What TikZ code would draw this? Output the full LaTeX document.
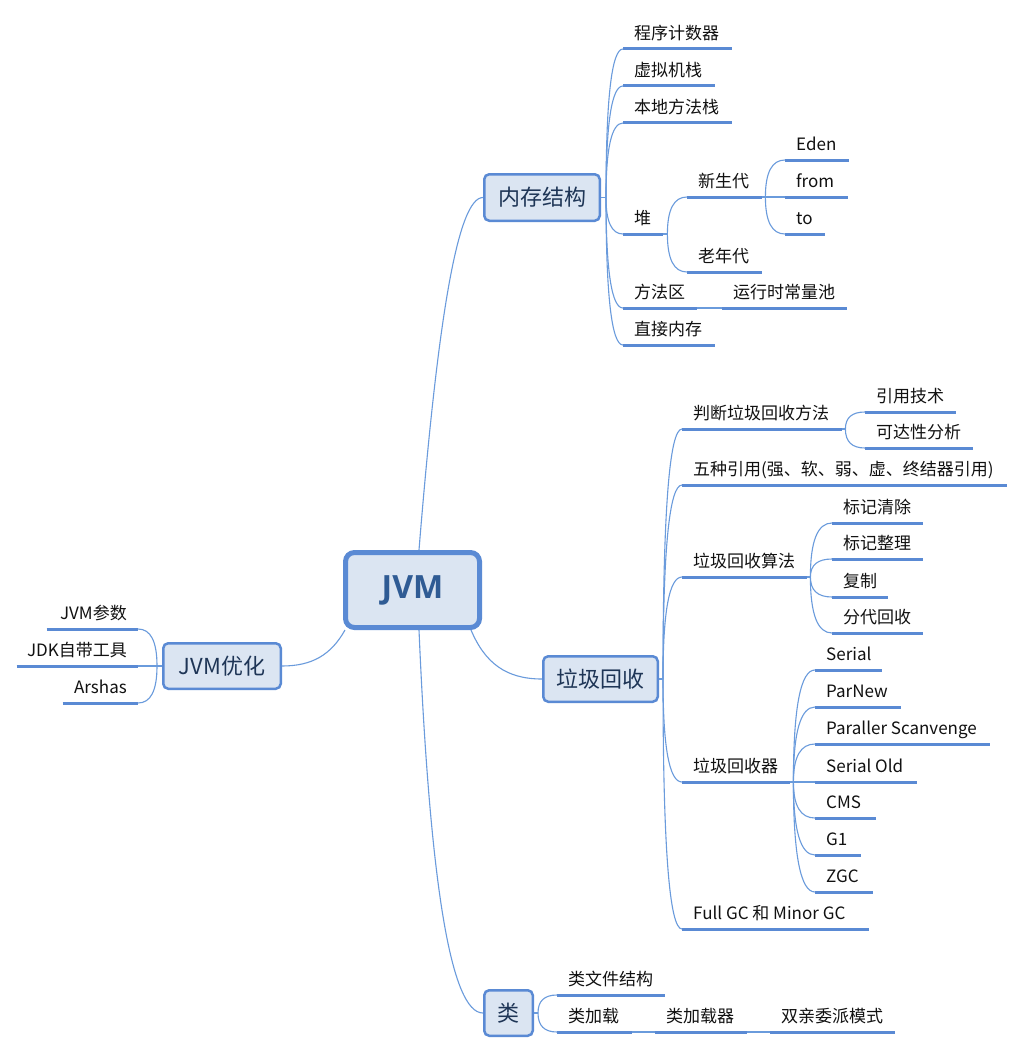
\documentclass[tikz,border=0pt]{standalone}
\usepackage{fontspec}
\setmainfont{Noto Sans CJK SC}
\newfontfamily\jvmfont{Open Sans}
\usetikzlibrary{calc}
\definecolor{ulc}{HTML}{5A8AD4}
\definecolor{cnc}{HTML}{6A9BDC}
\definecolor{boxf}{HTML}{DBE5F2}
\definecolor{boxd}{HTML}{5A8AD4}
\definecolor{topc}{HTML}{1E3556}
\definecolor{jvmc}{HTML}{2F5B94}
\definecolor{leafc}{HTML}{111111}
\newcommand\lbx[2]{\makebox[\dimexpr #1pt-22pt\relax][l]{#2}}
\newcommand\rbx[2]{\makebox[\dimexpr #1pt-22pt\relax][r]{#2}}
\newcommand\lnk[2]{\draw[conn] (#1) .. controls ($(#1)!0.667!(#1|-#2)$) and ($(#2)!0.667!(#1|-#2)$) .. (#2);}
\begin{document}
\begin{tikzpicture}[x=1pt,y=-1pt,
  leaf/.style={anchor=south west, inner xsep=11pt, inner ysep=5.5pt, text height=13pt, text depth=4pt, font=\fontsize{17}{20}\selectfont, text=leafc},
  lleaf/.style={leaf, anchor=south east},
  topic/.style={draw=boxd, fill=boxf, line width=2.5pt, rounded corners=5pt, font=\fontsize{22}{26}\selectfont, text=topc, inner sep=0pt},
  central/.style={draw=boxd, fill=boxf, line width=5pt, rounded corners=9pt, font=\jvmfont\bfseries\fontsize{32}{38}\selectfont, text=jvmc, minimum width=134pt, minimum height=75pt, inner sep=0pt},
  uline/.style={draw=ulc, line width=3pt},
  conn/.style={draw=cnc, line width=1.1pt}]
\fill[white] (0,0) rectangle (1024,1054);
\useasboundingbox (0,0) rectangle (1024,1054);

% main boxes
\node[central] (jvm) at (412.5,590) {JVM};
\node[topic, minimum width=115.5pt, minimum height=46.5pt] (mem) at (542,197.5) {内存结构};
\node[topic, minimum width=114.5pt, minimum height=45.5pt] (gc) at (600.5,679) {垃圾回收};
\node[topic, minimum width=48.5pt, minimum height=45.5pt] (cls) at (508.5,1013) {类};
\node[topic, minimum width=117.5pt, minimum height=45.5pt] (opt) at (222,666) {JVM优化};

% memory structure
\node[leaf] (m1) at (623,49) {\lbx{109}{程序计数器}};
\node[leaf] (m2) at (623,86) {\lbx{92}{虚拟机栈}};
\node[leaf] (m3) at (623,123) {\lbx{109}{本地方法栈}};
\node[leaf] (m4) at (623,234) {\lbx{40}{堆}};
\node[leaf] (m5) at (623,308) {\lbx{74}{方法区}};
\node[leaf] (m6) at (623,345) {\lbx{92}{直接内存}};
\node[leaf] (h1) at (687,197) {\lbx{75}{新生代}};
\node[leaf] (h2) at (687,272) {\lbx{75}{老年代}};
\node[leaf] (e1) at (785,160) {\lbx{64}{Eden}};
\node[leaf] (e2) at (785,197) {\lbx{63}{from}};
\node[leaf] (e3) at (785,234) {\lbx{40}{to}};
\node[leaf] (r1) at (722,308) {\lbx{125}{运行时常量池}};

% garbage collection
\node[leaf] (g1) at (682,429) {\lbx{160}{判断垃圾回收方法}};
\node[leaf] (g2) at (682,485) {\lbx{325}{五种引用(强、软、弱、虚、终结器引用)}};
\node[leaf] (g3) at (682,577) {\lbx{125}{垃圾回收算法}};
\node[leaf] (g4) at (682,782) {\lbx{108}{垃圾回收器}};
\node[leaf] (g5) at (682,929) {\lbx{187}{Full GC 和 Minor GC}};
\node[leaf] (j1) at (865,412) {\lbx{91}{引用技术}};
\node[leaf] (j2) at (865,448) {\lbx{108}{可达性分析}};
\node[leaf] (a1) at (832,523) {\lbx{91}{标记清除}};
\node[leaf] (a2) at (832,559) {\lbx{91}{标记整理}};
\node[leaf] (a3) at (832,597) {\lbx{56}{复制}};
\node[leaf] (a4) at (832,633) {\lbx{91}{分代回收}};
\node[leaf] (c1) at (815,670) {\lbx{67}{Serial}};
\node[leaf] (c2) at (815,707) {\lbx{86}{ParNew}};
\node[leaf] (c3) at (815,744) {\lbx{175}{Paraller Scanvenge}};
\node[leaf] (c4) at (815,782) {\lbx{102}{Serial Old}};
\node[leaf] (c5) at (815,818) {\lbx{61}{CMS}};
\node[leaf] (c6) at (815,855) {\lbx{46}{G1}};
\node[leaf] (c7) at (815,892) {\lbx{58}{ZGC}};

% class
\node[leaf] (k1) at (557,995) {\lbx{108}{类文件结构}};
\node[leaf] (k2) at (557,1032) {\lbx{75}{类加载}};
\node[leaf] (k3) at (655,1032) {\lbx{92}{类加载器}};
\node[leaf] (k4) at (770,1032) {\lbx{125}{双亲委派模式}};

% optimisation
\node[lleaf] (o1) at (138,629) {\rbx{91}{JVM参数}};
\node[lleaf] (o2) at (138,666) {\rbx{121}{JDK自带工具}};
\node[lleaf] (o3) at (138,703) {\rbx{75}{Arshas}};

% underlines
\foreach \n in {m1,m2,m3,m4,m5,m6,h1,h2,e1,e2,e3,r1,g1,g2,g3,g4,g5,j1,j2,a1,a2,a3,a4,c1,c2,c3,c4,c5,c6,c7,k1,k2,k3,k4,o1,o2,o3}
  \draw[uline] (\n.south west) -- (\n.south east);

% central connectors
\draw[conn] ([xshift=6.5pt]jvm.north) .. controls +(19,-235) and +(-25,0) .. (mem.west);
\draw[conn] ([xshift=-11pt]jvm.south east) .. controls +(14,33) and +(-36,0) .. (gc.west);
\draw[conn] ([xshift=6.5pt]jvm.south) .. controls +(11,255) and +(-32,0) .. (cls.west);
\draw[conn] ([xshift=2pt]jvm.south west) .. controls +(-14,25) and +(30,0) .. (opt.east);

% spines
\coordinate (memS) at ([xshift=5pt]mem.east);
\draw[conn] (mem.east) -- (memS);
\foreach \n in {m1,m2,m3,m4,m5,m6} {\lnk{memS}{\n.south west}}
\coordinate (m4S) at ([xshift=4pt]m4.south east);
\draw[conn] (m4.south east) -- (m4S);
\lnk{m4S}{h1.south west}
\lnk{m4S}{h2.south west}
\coordinate (h1S) at ([xshift=3pt]h1.south east);
\draw[conn] (h1.south east) -- (h1S);
\foreach \n in {e1,e2,e3} {\lnk{h1S}{\n.south west}}
\draw[conn] (m5.south east) -- (r1.south west);

\coordinate (gcS) at ([xshift=4pt]gc.east);
\draw[conn] (gc.east) -- (gcS);
\foreach \n in {g1,g2,g3,g4,g5} {\lnk{gcS}{\n.south west}}
\coordinate (g1S) at ([xshift=3pt]g1.south east);
\draw[conn] (g1.south east) -- (g1S);
\foreach \n in {j1,j2} {\lnk{g1S}{\n.south west}}
\coordinate (g3S) at ([xshift=3pt]g3.south east);
\draw[conn] (g3.south east) -- (g3S);
\foreach \n in {a1,a2,a3,a4} {\lnk{g3S}{\n.south west}}
\coordinate (g4S) at ([xshift=3pt]g4.south east);
\draw[conn] (g4.south east) -- (g4S);
\foreach \n in {c1,c2,c3,c4,c5,c6,c7} {\lnk{g4S}{\n.south west}}

\coordinate (clsS) at ([xshift=4pt]cls.east);
\draw[conn] (cls.east) -- (clsS);
\foreach \n in {k1,k2} {\lnk{clsS}{\n.south west}}
\draw[conn] (k2.south east) -- (k3.south west);
\draw[conn] (k3.south east) -- (k4.south west);

\coordinate (optS) at ([xshift=-5pt]opt.west);
\draw[conn] (opt.west) -- (optS);
\foreach \n in {o1,o2,o3} {\lnk{optS}{\n.south east}}
\end{tikzpicture}
\end{document}
